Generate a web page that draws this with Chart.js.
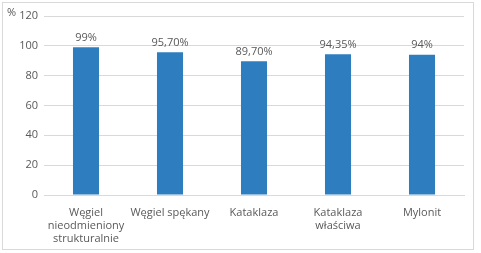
<!DOCTYPE html>
<html>
<head>
<meta charset="utf-8">
<script src="https://cdn.jsdelivr.net/npm/chart.js@4"></script>
<style>
  body { margin: 0; background: #fff; }
  #frame { position: absolute; left: 2px; top: 2px; width: 470px; height: 246px; border: 1px solid #d9d9d9; }
  #unit { position: absolute; left: 7px; top: 4px; font: 11px "Open Sans", sans-serif; color: #595959; }
  canvas { position: absolute; left: 0; top: 0; }
</style>
</head>
<body>
<div id="frame"></div>
<canvas id="chart" width="481" height="253"></canvas>
<div id="unit">%</div>
<script>
const categories = [['Węgiel', 'nieodmieniony', 'strukturalnie'], 'Węgiel spękany', 'Kataklaza', ['Kataklaza', 'właściwa'], 'Mylonit'];
const values = [99, 95.7, 89.7, 94.35, 94];
const valueLabels = ['99%', '95,70%', '89,70%', '94,35%', '94%'];
const yTicks = [0, 20, 40, 60, 80, 100, 120];

const textColor = '#595959';
const font = { family: '"Open Sans", sans-serif', size: 11 };

// labels above the bars
const barLabels = {
  id: 'barLabels',
  afterDatasetsDraw(chart) {
    const ctx = chart.ctx;
    ctx.save();
    ctx.font = '11px "Open Sans", sans-serif';
    ctx.fillStyle = textColor;
    ctx.textAlign = 'center';
    ctx.textBaseline = 'bottom';
    chart.getDatasetMeta(0).data.forEach((bar, i) => {
      ctx.fillText(valueLabels[i], bar.x, bar.y - 4);
    });
    ctx.restore();
  }
};

new Chart(document.getElementById('chart').getContext('2d'), {
  type: 'bar',
  data: {
    labels: categories,
    datasets: [{
      data: values,
      backgroundColor: '#2e7ebf',
      barPercentage: 0.62,
      categoryPercentage: 0.5
    }]
  },
  options: {
    responsive: false,
    animation: false,
    layout: { padding: { left: 0, top: 16, right: 17, bottom: 0 } },
    plugins: { legend: { display: false }, tooltip: { enabled: false } },
    scales: {
      x: {
        grid: { display: false },
        border: { color: '#d9d9d9' },
        ticks: { color: textColor, font: { family: font.family, size: 11, lineHeight: 1.18 }, maxRotation: 0, autoSkip: false, padding: 3 },
        afterFit(scale) { scale.height = 253 - 195; }
      },
      y: {
        min: 0,
        max: 120,
        afterBuildTicks(scale) { scale.ticks = yTicks.map(v => ({ value: v })); },
        grid: { color: '#d9d9d9', drawTicks: false },
        border: { display: false },
        ticks: { color: textColor, font: font, padding: 6 },
        afterFit(scale) { scale.width = 44; }
      }
    }
  },
  plugins: [barLabels]
});
</script>
</body>
</html>
